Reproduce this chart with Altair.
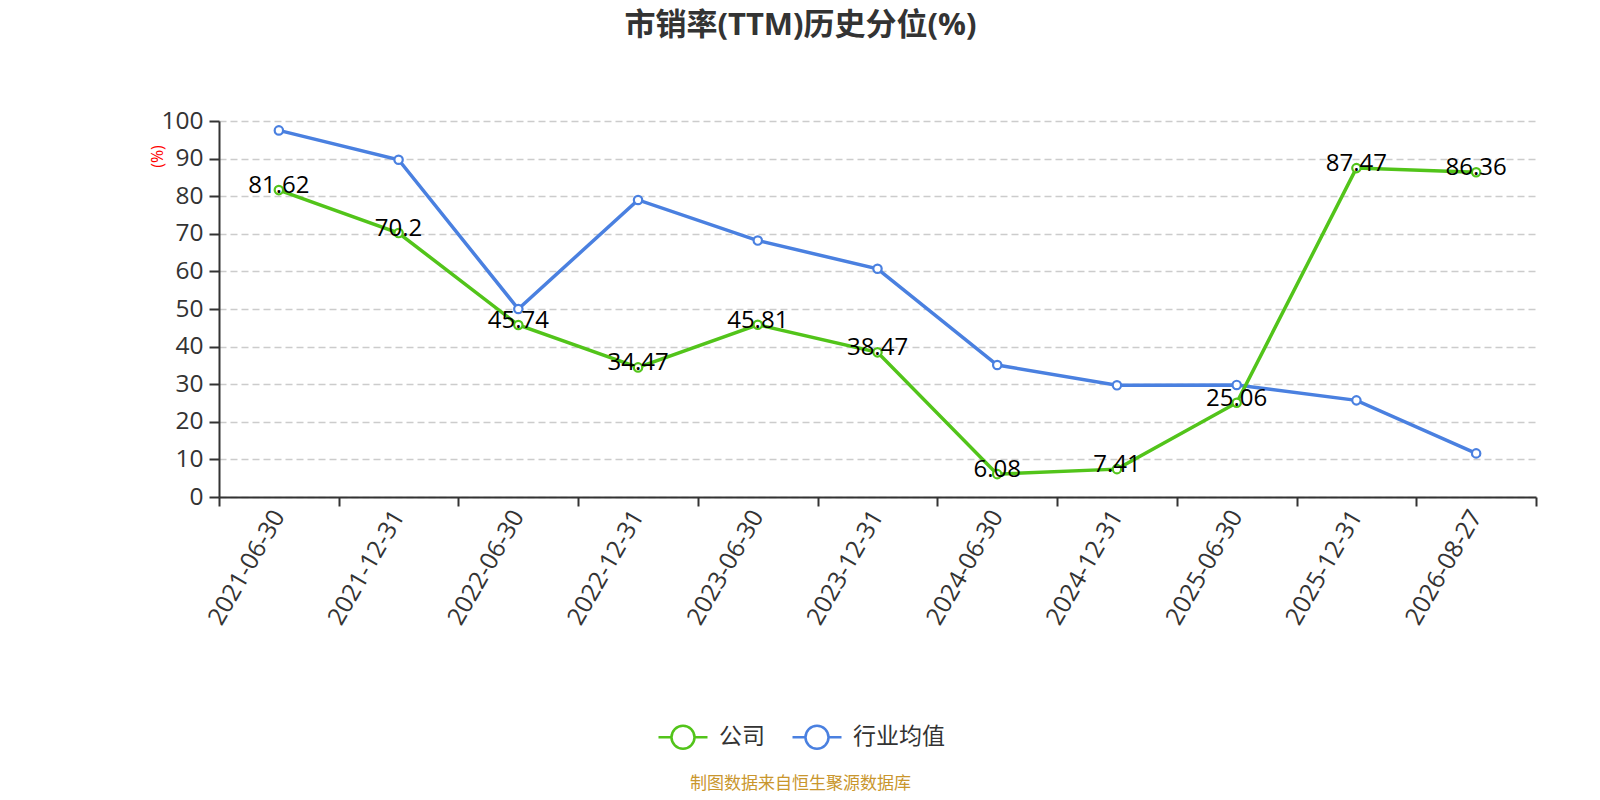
import altair as alt
import pandas as pd

dates = ["2021-06-30", "2021-12-31", "2022-06-30", "2022-12-31", "2023-06-30",
         "2023-12-31", "2024-06-30", "2024-12-31", "2025-06-30", "2025-12-31", "2026-08-27"]
company = [81.62, 70.2, 45.74, 34.47, 45.81, 38.47, 6.08, 7.41, 25.06, 87.47, 86.36]
industry = [97.5, 89.7, 50.0, 79.0, 68.2, 60.7, 35.1, 29.7, 29.8, 25.7, 11.6]
series_names = ["公司", "行业均值"]
series_colors = ["#52c41a", "#4a80e0"]
y_ticks = list(range(0, 101, 10))

rows = []
for d, v in zip(dates, company):
    rows.append({"date": d, "value": v, "series": series_names[0]})
for d, v in zip(dates, industry):
    rows.append({"date": d, "value": v, "series": series_names[1]})
df = pd.DataFrame(rows)
comp_df = df[df["series"] == series_names[0]].copy()
comp_df["label"] = [str(v) for v in company]
ind_df = df[df["series"] == series_names[1]].copy()

FONT = "Open Sans, Noto Sans CJK SC"

x_enc = alt.X(
    "date:N",
    sort=dates,
    bandPosition=0.5,
    scale=alt.Scale(type="band", domain=dates, paddingInner=0, paddingOuter=0),
    axis=alt.Axis(
        tickBand="extent",
        labelAngle=300,
        labelAlign="right",
        labelBaseline="middle",
        labelFontSize=24.5,
        labelColor="#333333",
        labelPadding=6,
        domainColor="#333333",
        domainWidth=2,
        tickColor="#333333",
        tickWidth=2,
        tickSize=9,
        grid=False,
        title="制图数据来自恒生聚源数据库",
        titleColor="#c9962d",
        titleFontSize=17,
        titleFontWeight="normal",
        titleX=581,
        titleY=286,
        titleAlign="center",
        titleBaseline="middle",
    ),
)

y_enc = alt.Y(
    "value:Q",
    scale=alt.Scale(domain=[0, 100], nice=False),
    axis=alt.Axis(
        values=y_ticks,
        grid=True,
        gridDash=[7, 4],
        gridColor="#cccccc",
        gridWidth=1.5,
        domainColor="#333333",
        domainWidth=2,
        tickColor="#333333",
        tickWidth=2,
        tickSize=10,
        labelFontSize=24.5,
        labelColor="#333333",
        labelPadding=6,
        title="(%)",
        titleColor="red",
        titleFontSize=16,
        titleFontWeight="normal",
        titleAngle=270,
        titleX=-62,
        titleY=35,
        titleAlign="center",
        titleBaseline="middle",
    ),
)

color_enc = alt.Color(
    "series:N",
    sort=series_names,
    scale=alt.Scale(domain=series_names, range=series_colors),
    legend=alt.Legend(
        title=None,
        orient="none",
        direction="horizontal",
        legendX=438,
        legendY=590,
        symbolType="M-1,0L-0.47,0M0.47,0L1,0M-0.47,0A0.47,0.47,0,1,1,0.47,0A0.47,0.47,0,1,1,-0.47,0Z",
        symbolSize=2401,
        symbolStrokeWidth=2.5,
        symbolFillColor="white",
        labelFontSize=23,
        labelColor="#333333",
        labelOffset=10,
        columnPadding=22,
        padding=0,
    ),
)

stroke_enc = alt.Stroke(
    "series:N",
    scale=alt.Scale(domain=series_names, range=series_colors),
    legend=None,
)

ind_lines = alt.Chart(ind_df).mark_line(strokeWidth=3.5).encode(
    x=x_enc, y=y_enc, color=color_enc
)
ind_points = alt.Chart(ind_df).mark_point(
    filled=True, fill="white", size=70, strokeWidth=2.2, opacity=1
).encode(x=x_enc, y=y_enc, stroke=stroke_enc)
comp_lines = alt.Chart(comp_df).mark_line(strokeWidth=3.5).encode(
    x=x_enc, y=y_enc, color=color_enc
)
comp_points = alt.Chart(comp_df).mark_point(
    filled=True, fill="white", size=70, strokeWidth=2.2, opacity=1
).encode(x=x_enc, y=y_enc, stroke=stroke_enc)

labels = alt.Chart(comp_df).mark_text(
    fontSize=24, color="black", baseline="middle", align="center", dy=-4, font=FONT
).encode(x=x_enc, y=y_enc, text="label:N")

chart = alt.layer(ind_lines, ind_points, comp_lines, comp_points, labels).properties(
    width=1317,
    height=376,
    autosize=alt.AutoSizeParams(type="none"),
    padding={"left": 211, "top": 113, "right": 50, "bottom": 295},
    title=alt.TitleParams(
        text="市销率(TTM)历史分位(%)",
        fontSize=31,
        fontWeight="bold",
        color="#333333",
        anchor="middle",
        frame="group",
        dx=-77,
        offset=51,
        baseline="middle",
        font=FONT,
    ),
).configure(font=FONT).configure_view(stroke=None)

chart.save("out.html", embed_options={"renderer": "svg", "actions": False})
